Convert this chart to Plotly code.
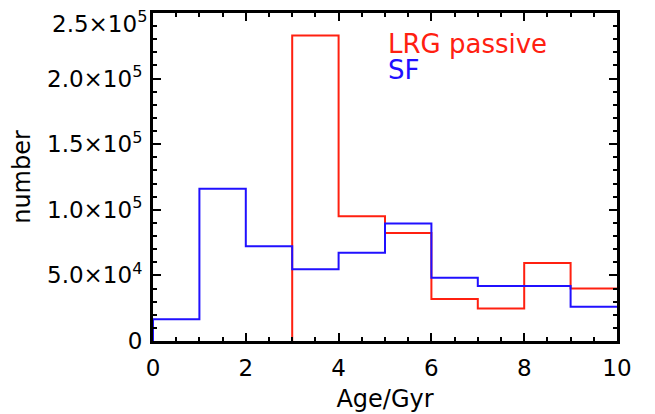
import plotly.graph_objects as go

# histogram bins (Age/Gyr) and counts
bin_edges = [0, 1, 2, 3, 4, 5, 6, 7, 8, 9, 10]
lrg_counts = [0, 0, 0, 232800, 95000, 82300, 32000, 24700, 59400, 40100]
sf_counts = [16500, 116000, 72300, 54600, 67300, 89600, 48300, 41900, 41900, 26200]

y_tickvals = [0, 50000, 100000, 150000, 200000, 250000]
y_ticktext = ["0", "5.0×10<sup>4</sup>", "1.0×10<sup>5</sup>", "1.5×10<sup>5</sup>",
              "2.0×10<sup>5</sup>", "2.5×10<sup>5</sup>"]


def step_xy(edges, counts):
    # skip empty leading bins, rise from zero at the first filled bin
    first = next(i for i, c in enumerate(counts) if c > 0)
    xs = [edges[first]] + list(edges[first:])
    ys = [0] + list(counts[first:]) + [counts[-1]]
    return xs, ys


FONT = "DejaVu Sans"
RED = "#ff2010"
BLUE = "#2010ff"

fig = go.Figure()

x_lrg, y_lrg = step_xy(bin_edges, lrg_counts)
x_sf, y_sf = step_xy(bin_edges, sf_counts)

fig.add_trace(go.Scatter(x=x_lrg, y=y_lrg, mode="lines", line=dict(color=RED, width=2, shape="hv"),
                         name="LRG passive"))
fig.add_trace(go.Scatter(x=x_sf, y=y_sf, mode="lines", line=dict(color=BLUE, width=2, shape="hv"),
                         name="SF"))

# labels in the corner, in the IDL xyouts style
fig.add_annotation(x=5.02, y=226700, text="LRG passive", showarrow=False, xanchor="left",
                   yanchor="middle", font=dict(family=FONT, size=26, color=RED))
fig.add_annotation(x=5.02, y=206900, text="SF", showarrow=False, xanchor="left",
                   yanchor="middle", font=dict(family=FONT, size=26, color=BLUE))

# top y label sits just under the top edge (IDL style), so it's placed by hand
fig.add_annotation(x=0, y=y_tickvals[-1], text=y_ticktext[-1], showarrow=False, xanchor="right",
                   yanchor="middle", xshift=-4, yshift=-9, font=dict(family=FONT, size=23, color="black"))

axis_common = dict(
    showgrid=False, zeroline=False, showline=True, linecolor="black", linewidth=3,
    mirror="allticks", ticks="inside", ticklen=8, tickwidth=2, tickcolor="black",
    layer="above traces", ticklabeloverflow="allow", automargin=False,
    tickfont=dict(family=FONT, size=23, color="black"),
)

fig.update_xaxes(range=[0, 10], tickvals=[0, 2, 4, 6, 8, 10], ticklabelstandoff=4,
                 minor=dict(dtick=0.5, ticks="inside", ticklen=4, tickwidth=2, tickcolor="black"),
                 title=dict(text="Age/Gyr", font=dict(family=FONT, size=24, color="black"), standoff=11),
                 **axis_common)
fig.update_yaxes(range=[0, 250000], tickvals=y_tickvals, ticktext=y_ticktext[:-1] + [""],
                 ticklabelstandoff=3,
                 minor=dict(dtick=10000, ticks="inside", ticklen=4, tickwidth=2, tickcolor="black"),
                 title=dict(text="number", font=dict(family=FONT, size=24, color="black"), standoff=11),
                 **axis_common)

# the page body adds an 8px offset, so margins are trimmed on the top/left
fig.update_layout(
    width=655, height=414,
    margin=dict(l=145, r=46, t=5, b=81),
    paper_bgcolor="white", plot_bgcolor="white",
    showlegend=False,
)

fig.write_html("out.html")
